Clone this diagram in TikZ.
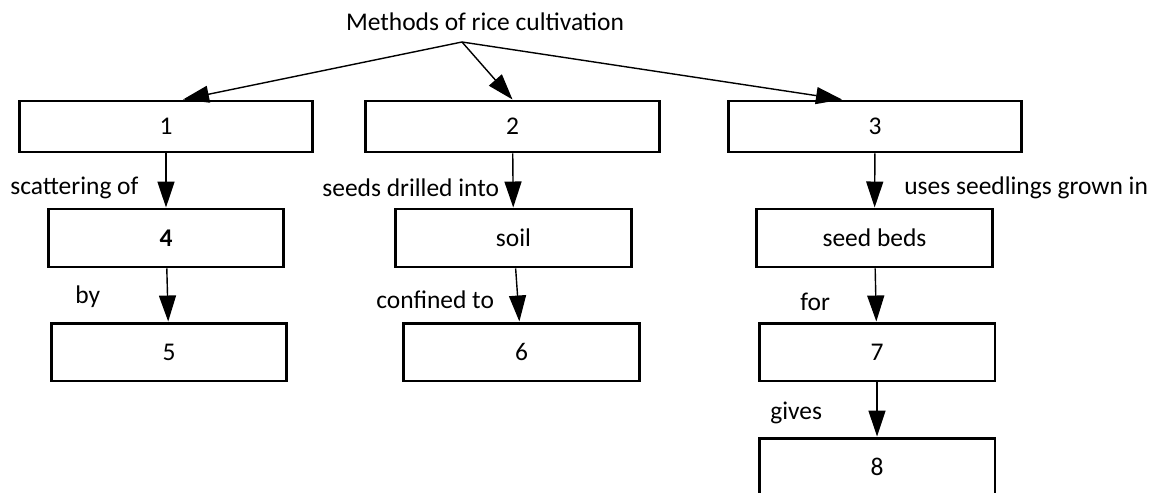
\documentclass[tikz,border=0pt]{standalone}
\usepackage{fontspec}
\setmainfont{Carlito}
\usetikzlibrary{arrows.meta, positioning}

\begin{document}
\begin{tikzpicture}[
  x=0.02cm, y=-0.02cm,
  every node/.style={font=\fontsize{14.5}{17}\selectfont},
  topbox/.style={rectangle, draw, line width=1.7pt, minimum width=5.88cm, minimum height=1.02cm, inner sep=0pt},
  subbox/.style={rectangle, draw, line width=1.7pt, minimum width=4.72cm, minimum height=1.16cm, inner sep=0pt},
  link/.style={-{Triangle[length=0.52cm, width=0.34cm]}, line width=0.8pt},
  lbl/.style={anchor=west, inner sep=0pt},
]
\useasboundingbox (0,0) rectangle (1155,493);

\node (title) at (485,22) {Methods of rice cultivation};
\coordinate (fork) at (462,42);

\node[topbox] (m1) at (166,126.5) {1};
\node[topbox] (m2) at (512.5,126.5) {2};
\node[topbox] (m3) at (875,126.5) {3};
\node[subbox] (n4) at (166,238) {\textbf{4}};
\node[subbox] (soil) at (513.5,238) {soil};
\node[subbox] (beds) at (874.5,238) {seed beds};
\node[subbox] (n5) at (169,352) {5};
\node[subbox] (n6) at (521.5,352) {6};
\node[subbox] (n7) at (877,352) {7};
\node[subbox] (n8) at (877,467) {8};

% Links
\draw[link] (fork) -- ([xshift=0.34cm]m1.north);
\draw[link] (fork) -- (m2.north);
\draw[link] (fork) -- ([xshift=-0.66cm]m3.north);
\draw[link] (m1) -- (n4);
\draw[link] (m2) -- (soil);
\draw[link] (m3) -- (beds);
\draw[link] (n4) -- (n5);
\draw[link] (soil) -- (n6);
\draw[link] (beds) -- (n7);
\draw[link] (n7) -- (n8);

% Link labels
\node[lbl] (lscat) at (10,188) {scattering of};
\node[lbl] (ldrill) at (322,188) {seeds drilled into};
\node[lbl] (luses) at (904,188) {uses seedlings grown in};
\node[lbl] (lby) at (75,297) {by};
\node[lbl] (lconf) at (376,300) {confined to};
\node[lbl] (lfor) at (800,302) {for};
\node[lbl] (lgives) at (770,413) {gives};
\end{tikzpicture}
\end{document}
